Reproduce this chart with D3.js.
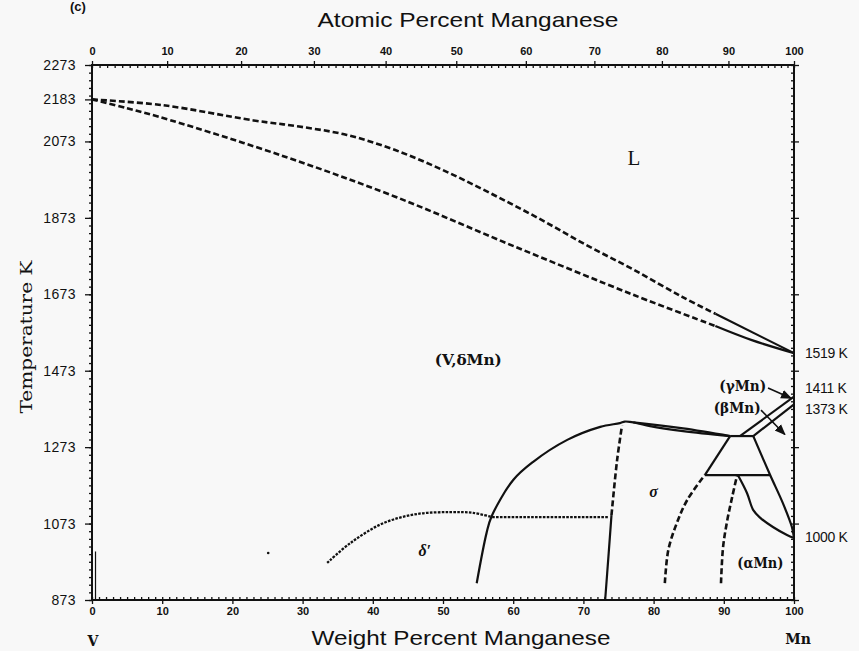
<!DOCTYPE html>
<html>
<head>
<meta charset="utf-8">
<script src="https://cdn.jsdelivr.net/npm/d3@7"></script>
<style>
  body { margin: 0; background: #f8f8f8; }
  svg { display: block; }
</style>
</head>
<body>
<div id="chart"></div>
<script>
// --- data (wt% Mn, temperature K) ---
var wtTicks = [0, 10, 20, 30, 40, 50, 60, 70, 80, 90, 100];
var atTicks = [0, 10, 20, 30, 40, 50, 60, 70, 80, 90, 100];
var tempTicks = [873, 1073, 1273, 1473, 1673, 1873, 2073, 2183, 2273];

var liquidusDashed = [[0, 2183], [10, 2168], [23, 2128], [29.5, 2112], [36.3, 2090], [43.1, 2051], [50, 1998],
  [56.8, 1937], [63.6, 1872], [70.4, 1802], [77.2, 1737], [84, 1667], [88.8, 1622]];
var liquidusSolid = [[88.8, 1622], [100, 1519]];
var solidusDashed = [[0, 2183], [5, 2160], [11.1, 2129], [27.5, 2033], [43.1, 1929], [60.2, 1798], [77.2, 1671], [88.8, 1590]];
var solidusSolid = [[88.8, 1590], [94, 1553], [100, 1519]];

var sigmaDome = [[54.8, 917], [56.2, 1048], [56.9, 1091], [60.0, 1187], [62.8, 1234], [67.7, 1292], [72.4, 1326],
  [75.2, 1336], [75.9, 1340], [77.1, 1338], [84.2, 1322], [90.9, 1302]];
var sigmaLens = [[77.1, 1338], [79.5, 1328], [84.2, 1315], [90.9, 1302]];
var sigmaLeftDashed = [[74.0, 1095], [74.8, 1239], [75.5, 1330]];
var sigmaLeftSolid = [[73.1, 873], [73.6, 995], [74.0, 1095]];
var sigmaRightDashed = [[81.6, 917], [82.1, 1004], [83.3, 1074], [84.8, 1135], [87.3, 1200]];

var peritectic = [[90.9, 1302], [94.2, 1302]];
var eutectoid = [[87.3, 1200], [96.6, 1200]];
var trapLeft = [[87.3, 1200], [90.9, 1302]];
var betaUpper = [[92.3, 1302], [100, 1405]];
var betaLower = [[94.2, 1302], [100, 1385]];
var alphaRight = [[94.2, 1302], [96.6, 1200], [98.4, 1127], [99.7, 1064], [100, 1035]];
var alphaInner = [[92.0, 1200], [93.3, 1153], [94.2, 1108], [95.2, 1088], [97.0, 1064], [99.0, 1043], [100, 1035]];
var alphaDashed = [[89.6, 917], [89.9, 1012], [90.5, 1082], [91.2, 1143], [91.9, 1200]];

var deltaPrime = [[33.5, 970], [36.8, 1022], [41.5, 1074], [46.3, 1098], [51.0, 1103], [54.3, 1101], [57.0, 1090]];
var deltaLine = [[57.0, 1090], [73.5, 1090]];
var vLine = [[0.5, 873], [0.5, 1000]];
var specks = [[25.1, 996]];

var rightLabelText = ['1519 K', '1411 K', '1373 K', '1000 K'];
var rightLabelT = [1519, 1428, 1373, 1037];

var phaseLabels = [
  { text: 'L', w: 77.2, t: 2011, cls: 'big' },
  { text: '(V,\u03b4Mn)', w: 53.6, t: 1488, cls: 'mono', len: 67 },
  { text: '\u03b4\u2032', w: 47.4, t: 988, cls: 'greek' },
  { text: '\u03c3', w: 80.0, t: 1143, cls: 'greek' },
  { text: '(\u03b3Mn)', w: 92.7, t: 1420, cls: 'mono', len: 47 },
  { text: '(\u03b2Mn)', w: 91.9, t: 1362, cls: 'mono', len: 47 },
  { text: '(\u03b1Mn)', w: 95.2, t: 957, cls: 'mono', len: 46 }
];
var arrows = [
  [[96.3, 1428], [99.6, 1401]],
  [[95.3, 1370], [98.7, 1306]]
];

// --- chart ---
var width = 859, height = 651;
var svg = d3.select('#chart').append('svg')
  .attr('width', width).attr('height', height)
  .style('background', '#f8f8f8');

var x = d3.scaleLinear().domain([0, 100]).range([92, 794]);
var y = d3.scaleLinear().domain([873, 2273]).range([600, 65]);

// atomic percent -> weight percent Mn (V 50.94, Mn 54.94)
function atToWt(a) {
  return 100 * a * 54.94 / (a * 54.94 + (100 - a) * 50.94);
}
var atAll = d3.range(0, 101, 1);
var xAt = d3.scaleLinear().domain(atAll).range(atAll.map(function (a) { return x(atToWt(a)); }));

var fontTick = 'Liberation Sans, Arial, sans-serif';
var fontType = 'DejaVu Serif, Liberation Serif, serif';

function styleAxis(g) {
  g.select('.domain').remove();
  g.selectAll('line').attr('stroke', '#111').attr('stroke-width', 1.3);
}

// bottom axis
svg.append('g').attr('transform', 'translate(0,' + y(873) + ')')
  .call(d3.axisBottom(x).tickValues(wtTicks).tickSize(4).tickPadding(3).tickFormat(d3.format('d')))
  .call(styleAxis)
  .call(function (g) { g.selectAll('text').style('font', 'bold 11px ' + fontTick).attr('fill', '#111'); });
svg.append('g').attr('transform', 'translate(0,' + y(873) + ')')
  .call(d3.axisTop(x).tickValues(d3.range(0, 101, 1)).tickSize(3).tickFormat(''))
  .call(styleAxis);

// top axis (atomic percent)
svg.append('g').attr('transform', 'translate(0,' + y(2273) + ')')
  .call(d3.axisTop(xAt).tickValues(atTicks).tickSize(4).tickPadding(6).tickFormat(d3.format('d')))
  .call(styleAxis)
  .call(function (g) { g.selectAll('text').style('font', 'bold 11px ' + fontTick).attr('fill', '#111'); });
svg.append('g').attr('transform', 'translate(0,' + y(2273) + ')')
  .call(d3.axisBottom(xAt).tickValues(atAll).tickSize(3).tickFormat(''))
  .call(styleAxis);

// left axis
svg.append('g').attr('transform', 'translate(' + x(0) + ',0)')
  .call(d3.axisLeft(y).tickValues(tempTicks).tickSize(7).tickPadding(9).tickFormat(d3.format('d')))
  .call(styleAxis)
  .call(function (g) { g.selectAll('text').style('font', '500 14px ' + fontTick).attr('fill', '#111').attr('letter-spacing', '0.4px'); });
svg.append('g').attr('transform', 'translate(' + x(0) + ',0)')
  .call(d3.axisLeft(y).tickValues(d3.range(873, 2274, 20)).tickSize(3).tickFormat(''))
  .call(styleAxis);

// right axis
svg.append('g').attr('transform', 'translate(' + x(100) + ',0)')
  .call(d3.axisRight(y).tickValues(d3.range(873, 2274, 200)).tickSize(5).tickFormat(''))
  .call(styleAxis);
svg.append('g').attr('transform', 'translate(' + x(100) + ',0)')
  .call(d3.axisLeft(y).tickValues(d3.range(873, 2274, 20)).tickSize(3).tickFormat(''))
  .call(styleAxis);

// frame
svg.append('rect')
  .attr('x', x(0)).attr('y', y(2273))
  .attr('width', x(100) - x(0)).attr('height', y(873) - y(2273))
  .attr('fill', 'none').attr('stroke', '#111').attr('stroke-width', 2);

// phase boundaries
var line = d3.line().x(function (d) { return x(d[0]); }).y(function (d) { return y(d[1]); })
  .curve(d3.curveCatmullRom.alpha(0.5));
var straight = d3.line().x(function (d) { return x(d[0]); }).y(function (d) { return y(d[1]); });

function draw(data, kind, gen) {
  var p = svg.append('path').datum(data)
    .attr('d', gen || line)
    .attr('fill', 'none')
    .attr('stroke', '#111')
    .attr('stroke-linecap', 'butt')
    .attr('stroke-linejoin', 'round');
  if (kind === 'dash') p.attr('stroke-width', 2.6).attr('stroke-dasharray', '6,3');
  else if (kind === 'dot') p.attr('stroke-width', 2.3).attr('stroke-dasharray', '2.6,1.3');
  else if (kind === 'thin') p.attr('stroke-width', 1.2);
  else p.attr('stroke-width', 2.2);
  return p;
}

draw(liquidusDashed, 'dash');
draw(liquidusSolid, 'solid', straight);
draw(solidusDashed, 'dash');
draw(solidusSolid, 'solid');
draw(sigmaDome, 'solid');
draw(sigmaLens, 'solid');
draw(sigmaLeftDashed, 'dash');
draw(sigmaLeftSolid, 'solid');
draw(sigmaRightDashed, 'dash');
draw(peritectic, 'solid', straight);
draw(eutectoid, 'solid', straight);
draw(trapLeft, 'solid', straight);
draw(betaUpper, 'solid', straight);
draw(betaLower, 'solid', straight);
draw(alphaRight, 'solid');
draw(alphaInner, 'solid');
draw(alphaDashed, 'dash');
draw(deltaPrime, 'dot');
draw(deltaLine, 'dot', straight);
draw(vLine, 'thin', straight);

svg.selectAll('circle.speck').data(specks).enter().append('circle')
  .attr('class', 'speck')
  .attr('cx', function (d) { return x(d[0]); })
  .attr('cy', function (d) { return y(d[1]); })
  .attr('r', 1.3).attr('fill', '#111');

// arrows
svg.append('defs').append('marker')
  .attr('id', 'arrow').attr('viewBox', '0 0 10 10')
  .attr('refX', 9).attr('refY', 5)
  .attr('markerWidth', 7).attr('markerHeight', 7)
  .attr('orient', 'auto')
  .append('path').attr('d', 'M0,1 L10,5 L0,9 Z').attr('fill', '#111');

arrows.forEach(function (a) {
  draw(a, 'thin', straight).attr('stroke-width', 1.6).attr('marker-end', 'url(#arrow)');
});

// phase labels
phaseLabels.forEach(function (d) {
  var t = svg.append('text')
    .attr('x', x(d.w)).attr('y', y(d.t))
    .attr('text-anchor', 'middle')
    .attr('fill', '#111')
    .text(d.text);
  if (d.cls === 'big') t.style('font', '21px Liberation Serif, DejaVu Serif, serif');
  else if (d.cls === 'greek') t.style('font', 'italic bold 16px Liberation Serif, DejaVu Serif, serif');
  else {
    t.style('font', 'bold 14px ' + fontType)
      .attr('textLength', d.len).attr('lengthAdjust', 'spacingAndGlyphs');
  }
});

// right side temperature labels
rightLabelText.forEach(function (s, i) {
  svg.append('text')
    .attr('x', x(100) + 11).attr('y', y(rightLabelT[i]))
    .attr('dy', '0.35em')
    .style('font', '14px ' + fontTick)
    .attr('letter-spacing', '-0.3px')
    .attr('fill', '#111')
    .text(s);
});

// titles
svg.append('text')
  .attr('x', 468).attr('y', 27)
  .attr('text-anchor', 'middle')
  .attr('textLength', 301).attr('lengthAdjust', 'spacingAndGlyphs')
  .style('font', '21px ' + fontTick)
  .attr('fill', '#111')
  .text('Atomic Percent Manganese');

svg.append('text')
  .attr('x', 461).attr('y', 645)
  .attr('text-anchor', 'middle')
  .attr('textLength', 299).attr('lengthAdjust', 'spacingAndGlyphs')
  .style('font', '21px ' + fontTick)
  .attr('fill', '#111')
  .text('Weight Percent Manganese');

svg.append('text')
  .attr('transform', 'translate(32,337) rotate(-90)')
  .attr('text-anchor', 'middle')
  .attr('textLength', 153).attr('lengthAdjust', 'spacingAndGlyphs')
  .style('font', '16px ' + fontType)
  .attr('fill', '#111')
  .text('Temperature K');

svg.append('text')
  .attr('x', x(0) + 1).attr('y', 646)
  .attr('text-anchor', 'middle')
  .style('font', 'bold 14px ' + fontType)
  .attr('fill', '#111')
  .text('V');

svg.append('text')
  .attr('x', x(100) + 4).attr('y', 644)
  .attr('text-anchor', 'middle')
  .style('font', 'bold 14px ' + fontType)
  .attr('fill', '#111')
  .text('Mn');

svg.append('text')
  .attr('x', 70).attr('y', 11)
  .style('font', 'bold 13px ' + fontTick)
  .attr('fill', '#111')
  .text('(c)');
</script>
</body>
</html>
